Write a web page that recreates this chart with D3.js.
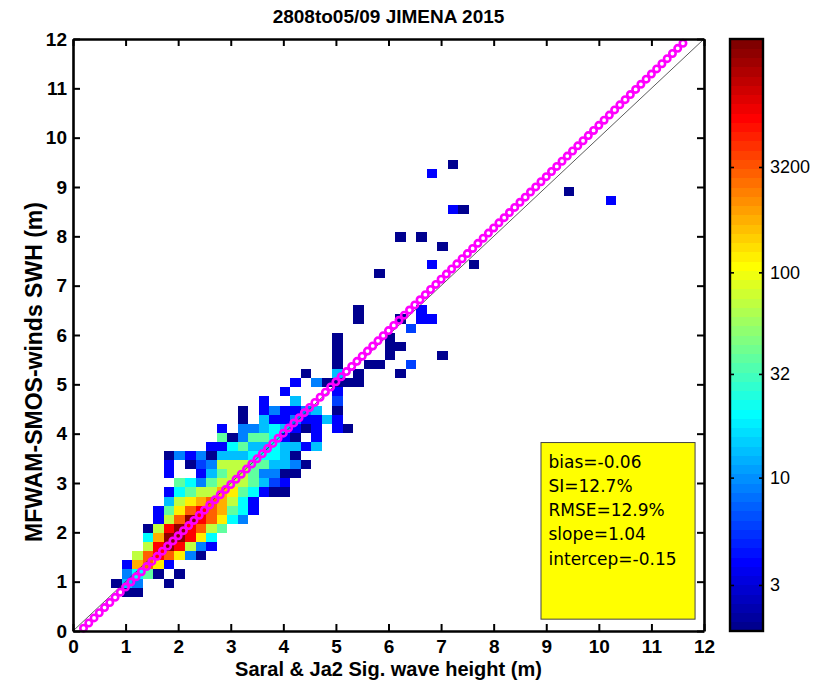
<!DOCTYPE html>
<html>
<head>
<meta charset="utf-8">
<script src="https://cdn.jsdelivr.net/npm/d3@7"></script>
<style>
  body { margin: 0; background: #fff; }
  svg { display: block; }
  .axis .tick text { font-family: "Liberation Sans", Arial, sans-serif; font-weight: bold; font-size: 19px; fill: #000; }
  .axis path, .axis line { stroke: #000; }
  .cbar .tick text { font-family: "Liberation Sans", Arial, sans-serif; font-weight: normal; font-size: 18px; fill: #000; }
</style>
</head>
<body>
<svg id="chart" width="825" height="683"></svg>
<script>
// ---- chart text ----
const titleText = "2808to05/09 JIMENA 2015";
const xLabelText = "Saral & Ja2 Sig. wave height (m)";
const yLabelText = "MFWAM-SMOS-winds SWH (m)";
const statsLines = ["bias=-0.06", "SI=12.7%", "RMSE=12.9%", "slope=1.04", "intercep=-0.15"];

// ---- axes ----
const axisTicks = [0, 1, 2, 3, 4, 5, 6, 7, 8, 9, 10, 11, 12];
const colorTickValues = [3, 10, 32, 100, 326];
const colorTickLabels = ["3", "10", "32", "100", "3200"];
const countDomain = [1.79, 1370];         // colour limits (number of collocations, log)

// ---- linear fit and reference line ----
const fitSlope = 1.04;
const fitIntercept = -0.15;
const fitStep = 0.1;                       // sampling of the fitted line (m)

// ---- 2-D histogram of collocations ----
const xBinOrigin = 0.13, xBinWidth = 0.2;  // altimeter SWH bins (m)
const yBinOrigin = 0.14, yBinHeight = 12 / 65; // model SWH bins (m)
// each row: [model bin, first altimeter bin, counts per bin ...]
const binCounts = [
  [3, 4, [1, 1]],
  [4, 3, [1, 13, 9, 0, 0, 1]],
  [5, 4, [9, 21, 38, 1, 0, 1]],
  [6, 4, [4, 180, 300, 120, 4]],
  [7, 5, [70, 300, 560, 300, 120, 9, 1]],
  [8, 6, [70, 560, 1170, 560, 70, 9, 4]],
  [9, 6, [21, 180, 1170, 1170, 560, 120, 21]],
  [10, 6, [1, 70, 560, 1170, 560, 300, 70, 38]],
  [11, 7, [4, 70, 300, 1170, 560, 300, 120, 21, 9]],
  [12, 7, [4, 38, 120, 300, 560, 300, 180, 38, 21, 4]],
  [13, 8, [13, 70, 120, 180, 300, 180, 70, 21, 4]],
  [14, 8, [4, 21, 38, 70, 70, 180, 120, 38, 21, 4, 1, 1]],
  [15, 9, [38, 21, 9, 38, 70, 70, 70, 38, 13, 6, 4]],
  [16, 8, [4, 0, 0, 4, 13, 38, 70, 70, 38, 9, 9, 1, 1]],
  [17, 8, [4, 0, 1, 6, 9, 70, 70, 70, 38, 38, 13, 13, 9, 1]],
  [18, 8, [1, 9, 4, 9, 1, 13, 13, 13, 21, 21, 21, 13, 1]],
  [19, 12, [4, 4, 21, 38, 13, 13, 21, 13, 13, 4, 13]],
  [20, 13, [38, 1, 9, 38, 38, 21, 4, 1, 0, 4]],
  [21, 13, [4, 0, 9, 9, 13, 21, 13, 4, 1, 4, 0, 4, 1]],
  [22, 15, [1, 0, 13, 4, 4, 9, 4, 4, 13, 4]],
  [23, 15, [1, 0, 4, 9, 4, 4, 9, 13, 0, 1]],
  [24, 17, [4, 0, 0, 13, 0, 0, 0, 6]],
  [25, 19, [4, 0, 0, 0, 0, 4]],
  [26, 20, [4, 0, 9, 1, 1, 1, 1]],
  [27, 21, [1, 0, 0, 13, 0, 1, 0, 0, 0, 1]],
  [28, 24, [1, 0, 0, 1, 1, 0, 0, 6]],
  [29, 24, [1, 0, 0, 0, 0, 1, 0, 0, 0, 0, 1]],
  [30, 24, [1, 0, 0, 0, 0, 1, 1]],
  [31, 24, [1, 0, 0, 0, 0, 1]],
  [32, 31, [6]],
  [33, 26, [1, 0, 0, 0, 1, 0, 4, 4]],
  [34, 26, [1, 0, 0, 0, 0, 0, 4]],
  [38, 28, [1]],
  [39, 33, [4, 0, 0, 0, 1]],
  [41, 34, [1]],
  [42, 30, [1, 0, 1]],
  [45, 35, [4, 1]],
  [46, 50, [4]],
  [47, 46, [1]],
  [49, 33, [4]],
  [50, 35, [1]]
];

// ---- layout ----
const plot = { left: 73, right: 704, top: 39, bottom: 631 };
const bar = { left: 730, right: 763 };

const svg = d3.select("#chart");
const x = d3.scaleLinear().domain([0, 12]).range([plot.left, plot.right]);
const y = d3.scaleLinear().domain([0, 12]).range([plot.bottom, plot.top]);

// MATLAB-style jet colormap with 64 entries
function jet64(k) {
  const u = i => (i <= 16 ? i / 16 : (i <= 31 ? 1 : (48 - i) / 16));
  const ch = i => (i >= 1 && i <= 47 ? u(i) : 0);
  const m = k + 1;
  return d3.rgb(ch(m - 24) * 255, ch(m - 8) * 255, ch(m + 8) * 255);
}
const level = d3.scaleLog().domain(countDomain).range([0, 64]).clamp(true);
const colorOf = c => jet64(Math.max(0, Math.min(63, Math.floor(level(c)))));

// flatten histogram rows into cells
const cells = [];
binCounts.forEach(([row, col0, counts]) => {
  counts.forEach((c, k) => {
    if (c > 0) cells.push({ row, col: col0 + k, count: c });
  });
});

svg.append("g").selectAll("rect").data(cells).join("rect")
  .attr("x", d => x(xBinOrigin + d.col * xBinWidth))
  .attr("width", d => x(xBinOrigin + (d.col + 1) * xBinWidth) - x(xBinOrigin + d.col * xBinWidth))
  .attr("y", d => y(yBinOrigin + (d.row + 1) * yBinHeight))
  .attr("height", d => y(yBinOrigin + d.row * yBinHeight) - y(yBinOrigin + (d.row + 1) * yBinHeight))
  .attr("fill", d => colorOf(d.count))
  .attr("shape-rendering", "crispEdges");

// 1:1 reference line
svg.append("line")
  .attr("x1", x(0)).attr("y1", y(0)).attr("x2", x(12)).attr("y2", y(12))
  .attr("stroke", "#333").attr("stroke-width", 0.8);

// fitted line drawn as circle markers
const fitPoints = d3.range(0, 12 + 1e-9, fitStep)
  .map(v => ({ xv: v, yv: fitSlope * v + fitIntercept }))
  .filter(p => p.yv >= 0 && p.yv <= 12);
svg.append("g").selectAll("circle").data(fitPoints).join("circle")
  .attr("cx", d => x(d.xv)).attr("cy", d => y(d.yv))
  .attr("r", 3.2)
  .attr("fill", "none")
  .attr("stroke", "#ff00ff")
  .attr("stroke-width", 2.6);

// statistics box
const box = { x0: 8.9, x1: 11.83, y0: 0.24, y1: 3.82 };
svg.append("rect")
  .attr("x", x(box.x0)).attr("y", y(box.y1))
  .attr("width", x(box.x1) - x(box.x0)).attr("height", y(box.y0) - y(box.y1))
  .attr("fill", "#ffff00").attr("stroke", "#444").attr("stroke-width", 1);
svg.append("g").selectAll("text").data(statsLines).join("text")
  .attr("x", x(box.x0) + 7.5)
  .attr("y", (d, i) => y(box.y1) + 25 + i * 24.3)
  .attr("font-family", "'DejaVu Sans', Verdana, sans-serif")
  .attr("font-size", 17)
  .attr("fill", "#000")
  .text(d => d);

// axes (ticks pointing inward on all four sides)
const tickLen = 7;
svg.append("g").attr("class", "axis").attr("transform", `translate(0,${plot.bottom})`)
  .call(d3.axisBottom(x).tickValues(axisTicks).tickFormat(d3.format("d")).tickSizeInner(-tickLen).tickSizeOuter(0).tickPadding(9));
svg.append("g").attr("class", "axis").attr("transform", `translate(0,${plot.top})`)
  .call(d3.axisTop(x).tickValues(axisTicks).tickFormat("").tickSizeInner(-tickLen).tickSizeOuter(0));
svg.append("g").attr("class", "axis").attr("transform", `translate(${plot.left},0)`)
  .call(d3.axisLeft(y).tickValues(axisTicks).tickFormat(d3.format("d")).tickSizeInner(-tickLen).tickSizeOuter(0).tickPadding(6));
svg.append("g").attr("class", "axis").attr("transform", `translate(${plot.right},0)`)
  .call(d3.axisRight(y).tickValues(axisTicks).tickFormat("").tickSizeInner(-tickLen).tickSizeOuter(0));
svg.selectAll(".axis path").attr("stroke-width", 2.6);
svg.selectAll(".axis line").attr("stroke-width", 2);

// colour bar
const cbLevel = d3.scaleLinear().domain([0, 64]).range([plot.bottom, plot.top]);
const cbScale = d3.scaleLog().domain(countDomain).range([plot.bottom, plot.top]);
svg.append("g").selectAll("rect").data(d3.range(64)).join("rect")
  .attr("x", bar.left).attr("width", bar.right - bar.left)
  .attr("y", k => cbLevel(k + 1)).attr("height", k => cbLevel(k) - cbLevel(k + 1) + 0.5)
  .attr("fill", k => jet64(k))
  .attr("shape-rendering", "crispEdges");
svg.append("rect")
  .attr("x", bar.left).attr("y", plot.top)
  .attr("width", bar.right - bar.left).attr("height", plot.bottom - plot.top)
  .attr("fill", "none").attr("stroke", "#000").attr("stroke-width", 2.4);
svg.append("g").attr("class", "cbar").attr("transform", `translate(${bar.right},0)`)
  .call(d3.axisRight(cbScale).tickValues(colorTickValues).tickFormat((d, i) => colorTickLabels[i])
    .tickSizeInner(-4).tickSizeOuter(0).tickPadding(7))
  .call(g => g.select(".domain").remove())
  .call(g => g.selectAll("line").attr("stroke", "#000").attr("stroke-width", 1.6));
svg.append("g").attr("class", "cbar").attr("transform", `translate(${bar.left},0)`)
  .call(d3.axisLeft(cbScale).tickValues(colorTickValues).tickFormat("").tickSizeInner(-4).tickSizeOuter(0))
  .call(g => g.select(".domain").remove())
  .call(g => g.selectAll("line").attr("stroke", "#000").attr("stroke-width", 1.6));

// titles
const labelFont = "'Liberation Sans', Arial, sans-serif";
svg.append("text")
  .attr("x", (plot.left + plot.right) / 2).attr("y", 23)
  .attr("text-anchor", "middle")
  .attr("font-family", labelFont).attr("font-weight", "bold").attr("font-size", 19)
  .text(titleText);
svg.append("text")
  .attr("x", (plot.left + plot.right) / 2).attr("y", 676)
  .attr("text-anchor", "middle")
  .attr("font-family", labelFont).attr("font-weight", "bold").attr("font-size", 20)
  .text(xLabelText);
svg.append("text")
  .attr("transform", `translate(42,372) rotate(-90)`)
  .attr("text-anchor", "middle")
  .attr("font-family", labelFont).attr("font-weight", "bold").attr("font-size", 23)
  .text(yLabelText);
</script>
</body>
</html>
